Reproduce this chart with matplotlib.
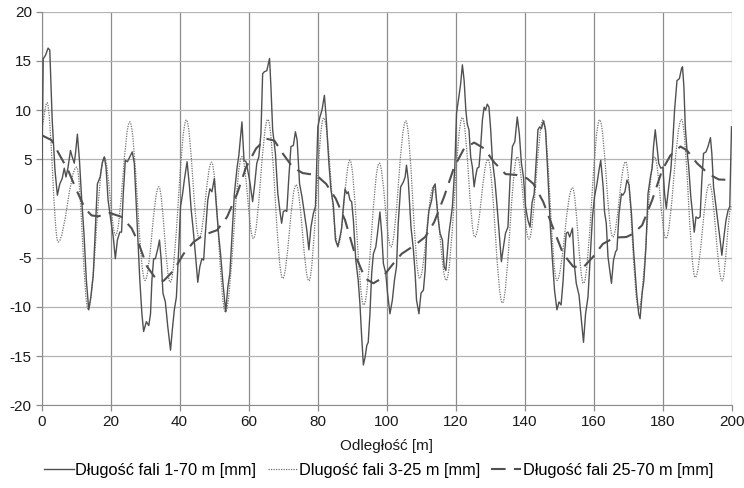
import matplotlib
matplotlib.use("Agg")
import matplotlib.pyplot as plt
from matplotlib.path import Path
from matplotlib.patches import PathPatch
from matplotlib.lines import Line2D

plt.rcParams['font.family'] = ['Liberation Sans', 'DejaVu Sans']
plt.rcParams['axes.unicode_minus'] = False

# ---- data ----
# Długość fali 1-70 m (solid)
full_x = [0, 0.5, 1.2, 1.9, 2.4, 3.1, 3.9, 4.6, 5.3, 6.0, 6.6, 7.1, 7.7, 8.4, 8.9, 9.5, 9.9,
          10.4, 11.0, 11.6, 12.3, 13.0, 13.7, 14.3, 15.0, 15.5, 16.2, 17.0, 17.6, 18.2, 18.7,
          19.3, 20.1, 20.8, 21.4, 22.0, 22.7, 23.2, 23.7, 24.3, 24.9, 25.6, 26.3, 26.9, 27.5,
          28.0, 28.5, 29.1, 29.6, 30.4, 31.1, 31.6, 32.0, 32.5, 33.0, 33.7, 34.2, 34.7, 35.2,
          35.9, 36.6, 37.4, 37.9, 38.5, 39.1, 39.8, 40.3, 40.9, 41.4, 42.2, 42.9, 43.4, 43.9,
          44.6, 45.3, 45.9, 46.5, 47.0, 47.5, 48.2, 48.8, 49.4, 50.1, 50.7, 51.4, 51.9, 52.6,
          53.4, 54.0, 54.6, 55.2, 55.9, 56.7, 57.2, 58.1, 58.7, 59.3, 60.3, 61.2, 61.8, 62.4,
          63.0, 63.6, 64.1, 64.6, 65.3, 66.1, 66.5, 67.0, 67.8, 68.5, 69.2, 69.6, 70.1, 70.7,
          71.1, 71.7, 72.3, 73.0, 73.6, 74.1, 74.8, 75.5, 76.2, 76.9, 77.5, 78.1, 78.8, 79.4,
          80.1, 80.7, 81.3, 82.0, 82.5, 83.3, 83.9, 84.6, 85.2, 85.9, 86.5, 87.0, 87.5, 88.0,
          88.5, 88.9, 89.4, 89.9, 90.4, 91.1, 91.8, 92.3, 92.8, 93.3, 93.8, 94.3, 94.7, 95.2,
          95.7, 96.2, 96.9, 97.4, 98.1, 98.6, 99.1, 99.8, 100.3, 101.0, 101.7, 102.3, 102.9,
          103.4, 104.1, 104.9, 105.4, 105.8, 106.3, 107.1, 107.8, 108.3, 108.7, 109.4, 110.0,
          110.7, 111.2, 111.6, 112.3, 113.1, 113.6, 114.1, 114.9, 115.5, 116.2, 116.7, 117.2,
          117.6, 118.1, 118.6, 119.1, 119.8, 120.3, 121.0, 121.5, 122.0, 122.5, 123.0, 123.4,
          123.9, 124.4, 124.9, 125.4, 125.8, 126.3, 126.8, 127.3, 127.8, 128.3, 128.7, 129.2,
          129.7, 130.2, 130.7, 131.4, 131.9, 132.6, 133.3, 133.9, 134.5, 135.2, 135.8, 136.5,
          137.2, 137.9, 138.5, 139.1, 139.7, 140.3, 141.0, 141.6, 142.2, 142.8, 143.4, 143.9,
          144.4, 144.9, 145.5, 146.1, 146.8, 147.5, 148.1, 148.7, 149.4, 150.0, 150.6, 151.2,
          151.6, 152.1, 152.6, 153.1, 153.9, 154.5, 155.0, 155.8, 156.5, 157.1, 157.7, 158.4,
          158.9, 159.7, 160.3, 161.0, 161.6, 162.1, 162.8, 163.2, 163.7, 164.2, 165.2, 165.8,
          166.4, 166.8, 167.4, 168.1, 168.5, 169.1, 169.7, 170.3, 171.0, 171.6, 171.9, 172.5,
          173.1, 173.5, 174.1, 174.6, 175.2, 175.8, 176.5, 177.0, 177.4, 177.9, 178.4, 178.9,
          179.5, 180.1, 180.6, 181.1, 181.8, 182.4, 182.9, 183.5, 184.2, 184.9, 185.5, 185.8,
          186.2, 186.6, 187.1, 187.6, 188.2, 188.7, 189.2, 189.7, 190.3, 190.9, 191.4, 191.9,
          192.6, 193.2, 193.9, 194.3, 194.8, 195.5, 196.1, 196.7, 197.2, 197.8, 198.4, 199.0,
          199.5, 200.0]
full_y = [0.5, 15.2, 15.6, 16.3, 16.1, 9.0, 3.9, 1.35, 2.5, 3.05, 4.1, 3.2, 4.2, 5.9, 5.25, 4.6, 5.75,
          7.55, 4.9, 1.2, -2.5, -7.3, -10.3, -9.0, -6.8, -2.9, 2.5, 3.2, 4.6, 5.25, 4.2,
          0.85, -1.2, -2.9, -5.1, -3.2, -2.4, -2.4, 1.5, 4.9, 4.75, 5.25, 5.75, 4.6, 0.2,
          -3.5, -7.3, -10.7, -12.5, -11.5, -11.9, -10.7, -7.3, -5.1, -5.1, -4.1, -3.2, -5.25, -8.6,
          -9.5, -12.0, -14.4, -12.4, -10.3, -9.0, -3.9, 0.2, 1.5, 2.9, 4.75, 2.2, -0.2, -1.9,
          -4.6, -7.5, -5.9, -5.1, -5.25, -2.5, 0.85, 2.0, 1.7, 3.05, 0.2, -2.9, -4.6, -7.6,
          -10.5, -8.0, -6.6, -2.9, 1.5, 4.2, 5.4, 8.8, 4.9, 4.75, 2.9, 0.7, 2.5, 4.6,
          5.25, 7.6, 13.7, 13.9, 14.0, 15.25, 12.4, 8.0, 5.6, 1.5, -0.5, -1.5, -0.3, -0.2,
          -0.3, 3.2, 6.3, 6.4, 7.8, 6.95, 2.5, 1.2, -0.5, -2.2, -4.2, -1.9, -0.5, 0.2,
          8.3, 9.3, 10.0, 11.5, 9.3, 4.6, 1.9, 0.35, -3.2, -3.9, -2.9, -2.0, 0.2, 2.0,
          1.5, 1.7, 0.85, 0.7, -1.2, -5.25, -7.3, -9.7, -13.0, -15.9, -15.1, -13.9, -13.6, -10.7,
          -6.6, -4.6, -3.9, -2.5, -0.35, -2.5, -5.6, -6.6, -8.6, -10.7, -9.3, -7.3, -5.9,
          -1.5, 2.2, 2.7, 3.2, 4.4, 2.9, -1.9, -4.2, -6.6, -9.3, -10.7, -8.6,
          -8.3, -6.3, -2.9, -0.2, 0.85, 2.2, 2.5, -0.85, -2.5, -3.2, -5.9, -6.3,
          -4.6, -2.5, -1.2, 0.2, 4.2, 9.7, 11.4, 12.7, 14.6, 13.0, 10.0, 8.6,
          8.0, 5.25, 4.2, 2.2, 3.2, 4.1, 4.2, 6.3, 9.0, 10.3, 10.0, 10.6,
          10.3, 8.0, 4.9, 2.9, 0.85, -2.2, -5.4, -3.9, -2.5, -1.9, 2.9, 6.3,
          6.8, 9.3, 7.6, 4.6, 3.2, 0.2, -1.2, -1.9, 0.6, 1.5, 4.9, 8.0,
          8.3, 8.1, 8.9, 8.0, 3.2, -1.9, -5.25, -8.3, -10.3, -9.5, -9.8, -7.3,
          -4.6, -2.5, -2.4, -2.9, -2.0, -5.9, -7.6, -8.8, -11.4, -13.6, -10.7, -9.0,
          -5.9, -0.85, 1.2, 2.5, 3.9, 4.9, 2.2, -0.35, -1.5, -4.9, -7.6, -5.25,
          -4.4, -4.2, -0.5, 1.5, 1.35, 1.7, 2.9, 2.4, -0.5, -4.2, -5.6, -8.6,
          -10.7, -11.2, -8.6, -7.3, -3.9, 1.5, 3.2, 4.1, 6.3, 8.0, 6.3, 4.6,
          4.1, 4.2, 1.5, 0.0, 2.2, 3.9, 6.3, 10.0, 13.0, 13.2, 14.2, 14.4,
          12.4, 8.3, 5.9, 4.2, 1.2, -0.5, -2.4, -0.85, -1.0, -0.85, 2.9, 5.6,
          5.75, 6.3, 7.2, 5.6, 2.2, 0.2, -1.5, -3.2, -4.75, -2.9, -1.2, -0.2,
          0.2, 8.3]

# Długość fali 3-25 m (dotted) - turning points
short_x = [0, 1.6, 4.8, 10.2, 13.5, 18.2, 21.5, 25.6, 30.0, 34.0, 37.3, 42.0, 45.7, 49.3,
           53.3, 58.1, 61.4, 65.6, 69.9, 73.8, 77.5, 81.8, 86.0, 89.4, 93.4, 97.9, 101.3,
           105.6, 109.6, 113.6, 117.3, 122.0, 125.6, 129.4, 133.6, 137.9, 141.3, 145.4,
           149.4, 153.9, 157.1, 161.8, 165.6, 169.3, 173.1, 177.7, 181.0, 185.5, 189.5,
           193.6, 197.3, 200.0]
short_y = [8.3, 10.75, -3.4, 4.2, -10.2, 5.2, -2.7, 8.8, -7.3, 2.2, -7.5, 9.0, -3.0, 4.7,
           -10.5, 5.25, -3.05, 9.05, -7.1, 2.4, -7.35, 9.2, -3.7, 4.9, -9.8, 4.6, -3.9,
           8.9, -7.1, 2.2, -7.3, 9.25, -2.9, 5.0, -9.6, 5.25, -3.1, 9.0,
           -7.3, 2.1, -7.6, 9.0, -2.9, 4.75, -10.2, 5.25, -3.05, 9.05, -7.0,
           2.5, -7.35, 0.3]

# Długość fali 25-70 m (dashed)
long_x = [0, 2.9, 5.3, 7.7, 10.1, 12.6, 14.5, 16.4, 19.8, 23.2, 26.1, 28.0, 30.6, 33.5, 35.4,
          38.3, 41.2, 44.1, 47.0, 50.9, 53.8, 56.7, 59.3, 62.2, 65.1, 67.5, 69.9, 72.8, 75.7,
          79.6, 82.5, 85.3, 88.0, 90.9, 93.8, 96.2, 98.6, 101.5, 104.4, 108.3, 111.2, 113.8,
          116.7, 119.6, 122.5, 125.4, 128.3, 131.2, 134.5, 137.9, 140.8, 142.6, 145.4, 148.3,
          151.2, 154.1, 157.0, 159.9, 162.7, 166.1, 169.5, 171.3, 174.1, 177.0, 179.9, 182.3,
          185.2, 187.1, 190.0, 193.4, 196.3, 199.7]
long_y = [7.46, 6.95, 5.4, 3.9, 1.9, 0.0, -0.7, -0.8, -0.45, -0.85, -2.0, -3.4, -5.9, -7.3, -7.35,
          -6.3, -4.6, -3.4, -2.7, -2.2, -0.85, 1.5, 4.2, 6.1, 7.1, 6.9, 5.6, 4.2, 3.6,
          3.4, 2.5, 1.0, -1.2, -4.7, -7.1, -7.6, -7.1, -5.8, -4.6, -3.7, -2.9, -1.4,
          1.2, 4.2, 6.1, 6.7, 6.1, 4.7, 3.5, 3.4, 3.05, 2.5, 0.7, -2.0,
          -4.6, -5.9, -6.0, -4.9, -3.6, -2.95, -2.9, -2.6, -1.7, 0.85, 3.9, 5.4,
          6.3, 5.9, 4.6, 3.5, 2.95, 2.9]

labels = ['Długość fali 1-70 m [mm]', 'Dlugość fali 3-25 m [mm]', 'Długość fali 25-70 m [mm]']
x_ticks = list(range(0, 201, 20))
y_ticks = list(range(-20, 21, 5))
x_label = 'Odległość [m]'

# ---- figure ----
fig = plt.figure(figsize=(7.44, 4.88), dpi=100)
ax = fig.add_axes([41.5 / 744, 1 - 405.3 / 488, 690 / 744, (405.3 - 11.7) / 488])

ax.set_xlim(0, 200)
ax.set_ylim(-20, 20)
ax.set_xticks(x_ticks)
ax.set_yticks(y_ticks)

for t in x_ticks:
    ax.axvline(t, color='#8c8c8c', lw=0.9, zorder=0)
for t in y_ticks:
    ax.axhline(t, color='#b4b4b4', lw=0.9, zorder=0)

for s in ['top', 'right']:
    ax.spines[s].set_visible(False)
ax.spines['left'].set_color('#8c8c8c')
ax.spines['bottom'].set_color('#8c8c8c')
ax.tick_params(axis='both', direction='out', length=4, width=0.9, color='#8c8c8c',
               labelsize=11, labelcolor='#1a1a1a', pad=3)

solid_kw = dict(color='#505050', lw=1.0)
dot_kw = dict(color='#707070', lw=0.9, linestyle=(0, (1, 1)))
dash_kw = dict(color='#505050', lw=1.5, linestyle=(0, (7, 4)))

ax.plot(full_x, full_y, zorder=3, **solid_kw)

# smooth dotted wave through its turning points
verts = [(short_x[0], short_y[0])]
codes = [Path.MOVETO]
for i in range(1, len(short_x)):
    x1, y1 = short_x[i - 1], short_y[i - 1]
    x2, y2 = short_x[i], short_y[i]
    dx = x2 - x1
    verts += [(x1 + 0.3642 * dx, y1), (x2 - 0.3642 * dx, y2), (x2, y2)]
    codes += [Path.CURVE4] * 3
ax.add_patch(PathPatch(Path(verts, codes), fill=False, transform=ax.transData,
                       edgecolor=dot_kw['color'], lw=dot_kw['lw'],
                       linestyle=dot_kw['linestyle'], zorder=2))

ax.plot(long_x, long_y, zorder=4, **dash_kw)

ax.set_xlabel(x_label, fontsize=11, color='#1a1a1a', labelpad=7)

handles = [Line2D([], [], **solid_kw), Line2D([], [], **dot_kw), Line2D([], [], **dash_kw)]
fig.legend(handles, labels, loc='center', bbox_to_anchor=(378.5 / 744, 1 - 470 / 488), ncol=3,
           frameon=False, fontsize=11.8, handlelength=1.8, handletextpad=0.1,
           columnspacing=0.7, borderaxespad=0)

fig.savefig('out.png', dpi=100)
